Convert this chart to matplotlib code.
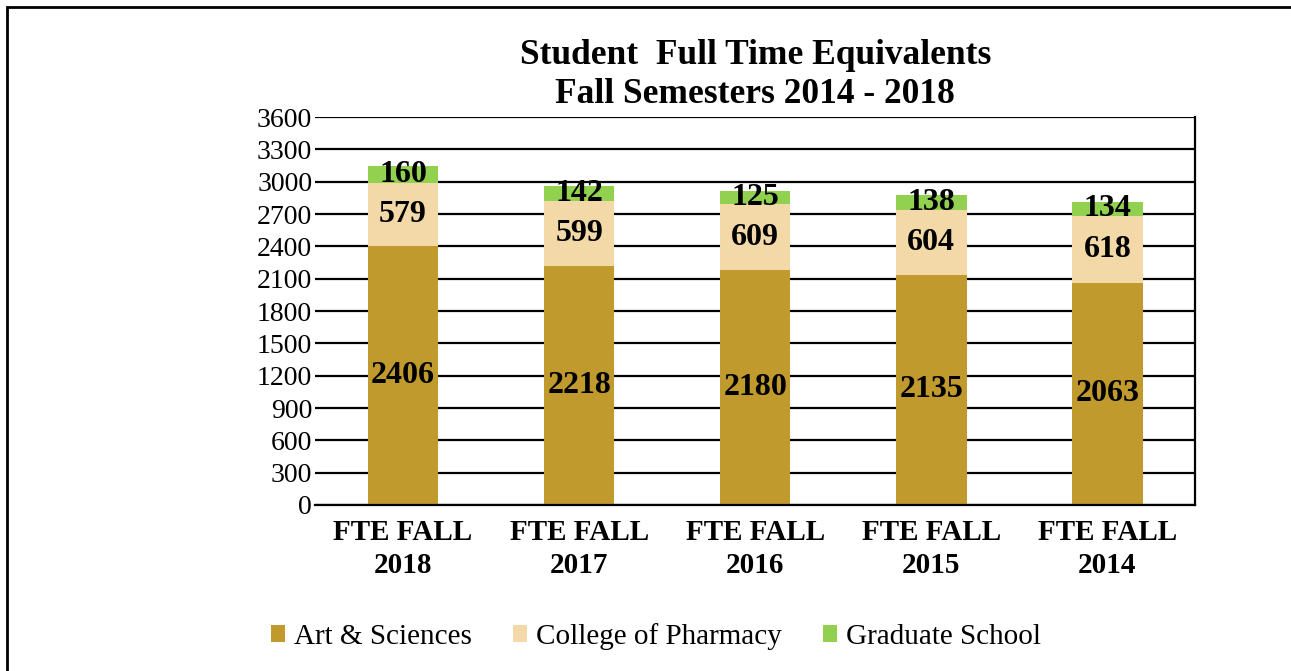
import matplotlib
matplotlib.use("Agg")
import matplotlib.pyplot as plt
import numpy as np
from matplotlib.patches import Rectangle

plt.rcParams['font.family'] = ['Liberation Serif', 'DejaVu Serif']

categories = ["FTE FALL\n2018", "FTE FALL\n2017", "FTE FALL\n2016", "FTE FALL\n2015", "FTE FALL\n2014"]
arts = [2406, 2218, 2180, 2135, 2063]
pharmacy = [579, 599, 609, 604, 618]
graduate = [160, 142, 125, 138, 134]
yticks = list(range(0, 3601, 300))

series = [("Art & Sciences", arts, "#C09A2D"),
          ("College of Pharmacy", pharmacy, "#F3D9A7"),
          ("Graduate School", graduate, "#92D050")]

fig = plt.figure(figsize=(12.91, 6.71), dpi=100)
ax = fig.add_axes([0.244, 0.2474, 0.682, 0.5782])

x = np.arange(len(categories))
bottom = np.zeros(len(categories))
for name, vals, col in series:
    vals = np.array(vals)
    ax.bar(x, vals, 0.4, bottom=bottom, color=col, label=name, zorder=2)
    for xi, b, v in zip(x, bottom, vals):
        ax.text(xi, b + v / 2, str(v), ha="center", va="center",
                fontsize=23, fontweight="bold", zorder=3)
    bottom += vals

ax.set_xlim(-0.5, 4.5)
ax.set_ylim(0, 3600)
ax.set_yticks(yticks)
ax.set_xticks(x)
ax.set_xticklabels(categories, fontsize=21, fontweight="bold", linespacing=1.3)
ax.tick_params(axis="y", labelsize=20, length=0, pad=2)
ax.tick_params(axis="x", length=0, pad=10)
ax.yaxis.grid(True, color="black", linewidth=1.6, zorder=1)
ax.set_axisbelow(True)
for s in ["left", "top"]:
    ax.spines[s].set_visible(False)
ax.spines["right"].set_linewidth(1.6)
ax.spines["bottom"].set_linewidth(1.6)

ax.set_title("Student  Full Time Equivalents\nFall Semesters 2014 - 2018",
             fontsize=25.5, fontweight="bold", pad=10, linespacing=1.25)

fig.legend(loc="center", bbox_to_anchor=(0.508, 0.052), ncol=3, frameon=False,
           fontsize=21, handlelength=0.5, handleheight=0.5, handletextpad=0.3,
           columnspacing=1.4)

fig.patches.append(Rectangle((7 / 1291, -0.1), 1.2, 1.1 - 7 / 671,
                             transform=fig.transFigure, fill=False,
                             edgecolor="black", linewidth=2, figure=fig))

fig.savefig("out.png", dpi=100)
